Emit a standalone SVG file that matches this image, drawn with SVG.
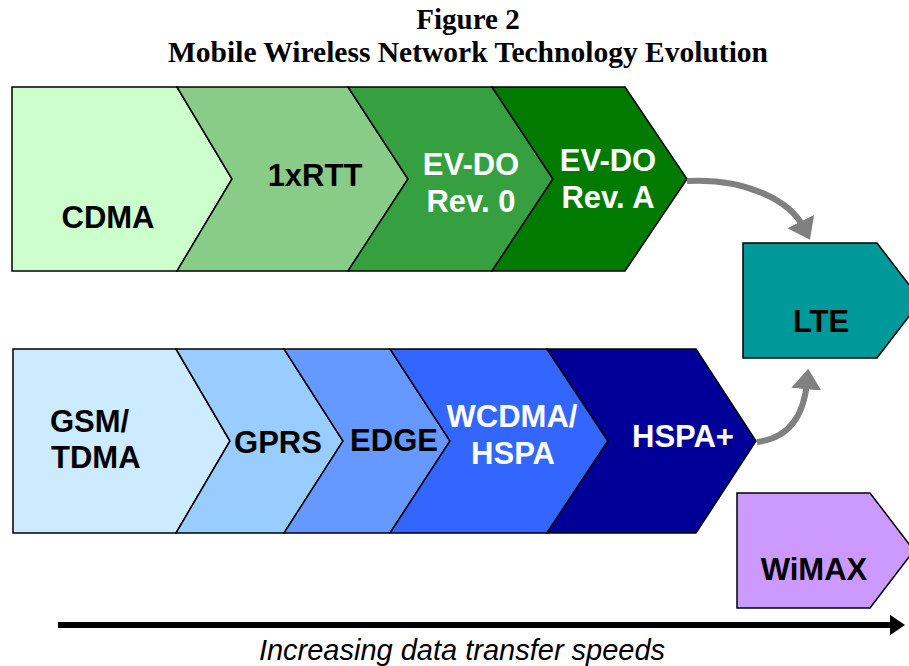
<svg xmlns="http://www.w3.org/2000/svg" width="909" height="666" viewBox="0 0 909 666">
<style>
.s{stroke:#000;stroke-width:1.5;stroke-linejoin:miter}
.t{font-family:"Liberation Sans",Arial,sans-serif;font-weight:bold;font-size:31px}
.w{fill:#fff}
.b{fill:#000}
.title{font-family:"Liberation Serif","Times New Roman",serif;font-weight:bold;font-size:29px;fill:#000}
.con{fill:none;stroke:#808080;stroke-width:6}
</style>
<defs>
<marker id="ga" markerWidth="5" markerHeight="5" refX="1.2" refY="2.5" orient="auto" markerUnits="strokeWidth">
<path d="M0,0 L3.4,2.5 L0,5 z" fill="#808080"/>
</marker>
<marker id="ba" markerWidth="4" markerHeight="4" refX="1" refY="2" orient="auto" markerUnits="strokeWidth">
<path d="M0,0.3 L2.5,2 L0,3.7 z" fill="#000"/>
</marker>
</defs>
<rect width="909" height="666" fill="#fff"/>
<text class="title" x="468" y="29" text-anchor="middle">Figure 2</text>
<text class="title" x="468" y="62" text-anchor="middle" textLength="600" lengthAdjust="spacingAndGlyphs">Mobile Wireless Network Technology Evolution</text>

<g id="cdma"><polygon class="s" fill="#CCFFCC" points="12,87 177,87 232,179 177,271 12,271"/><text class="t b" x="108" y="228" text-anchor="middle">CDMA</text></g>
<g id="rtt"><polygon class="s" fill="#88CC88" points="177,87 348,87 408,179 348,271 177,271 232,179"/><text class="t b" x="315" y="186" text-anchor="middle">1xRTT</text></g>
<g id="evdo0"><polygon class="s" fill="#36A041" points="348,87 492,87 553,179 492,271 348,271 408,179"/><text class="t w" x="471" y="175" text-anchor="middle">EV-DO</text><text class="t w" x="471" y="212" text-anchor="middle">Rev. 0</text></g>
<g id="evdoa"><polygon class="s" fill="#007A00" points="492,87 625,87 687,179 625,271 492,271 553,179"/><text class="t w" x="608" y="171" text-anchor="middle">EV-DO</text><text class="t w" x="608" y="208" text-anchor="middle">Rev. A</text></g>

<g id="gsm"><polygon class="s" fill="#CCEBFF" points="13,349 176,349 230,441 176,533 13,533"/><text class="t b" x="50" y="432">GSM/</text><text class="t b" x="51" y="468">TDMA</text></g>
<g id="gprs"><polygon class="s" fill="#99CCFF" points="176,349 284,349 343,441 284,533 176,533 230,441"/><text class="t b" x="278" y="453" text-anchor="middle">GPRS</text></g>
<g id="edge"><polygon class="s" fill="#6699FF" points="284,349 390,349 450,441 390,533 284,533 343,441"/><text class="t b" x="394" y="451" text-anchor="middle">EDGE</text></g>
<g id="wcdma"><polygon class="s" fill="#3366FF" points="390,349 547,349 608,441 547,533 390,533 450,441"/><text class="t w" x="512" y="427" text-anchor="middle">WCDMA/</text><text class="t w" x="513" y="464" text-anchor="middle">HSPA</text></g>
<g id="hspap"><polygon class="s" fill="#000099" points="547,349 696,349 756,441 696,533 547,533 608,441"/><text class="t w" x="683" y="447" text-anchor="middle">HSPA+</text></g>

<g id="lte"><polygon class="s" fill="#009999" points="743,243 877,243 921,300.5 877,358 743,358"/><text class="t b" x="821" y="332" text-anchor="middle">LTE</text></g>
<g id="wimax"><polygon class="s" fill="#CC99FF" points="737,493 870,493 914,550.5 870,608 737,608"/><text class="t b" x="814" y="580" text-anchor="middle">WiMAX</text></g>

<g id="connectors">
<path class="con" d="M687,181 C745,178 790,200 804,228" marker-end="url(#ga)"/>
<path class="con" d="M757,442 C790,438 804,415 807,382" marker-end="url(#ga)"/>
<path d="M58,625 L896,625" stroke="#000" stroke-width="6" fill="none" marker-end="url(#ba)"/>
</g>
<text x="462" y="660" text-anchor="middle" font-family="'Liberation Sans',Arial,sans-serif" font-style="italic" font-size="29">Increasing data transfer speeds</text>
</svg>
